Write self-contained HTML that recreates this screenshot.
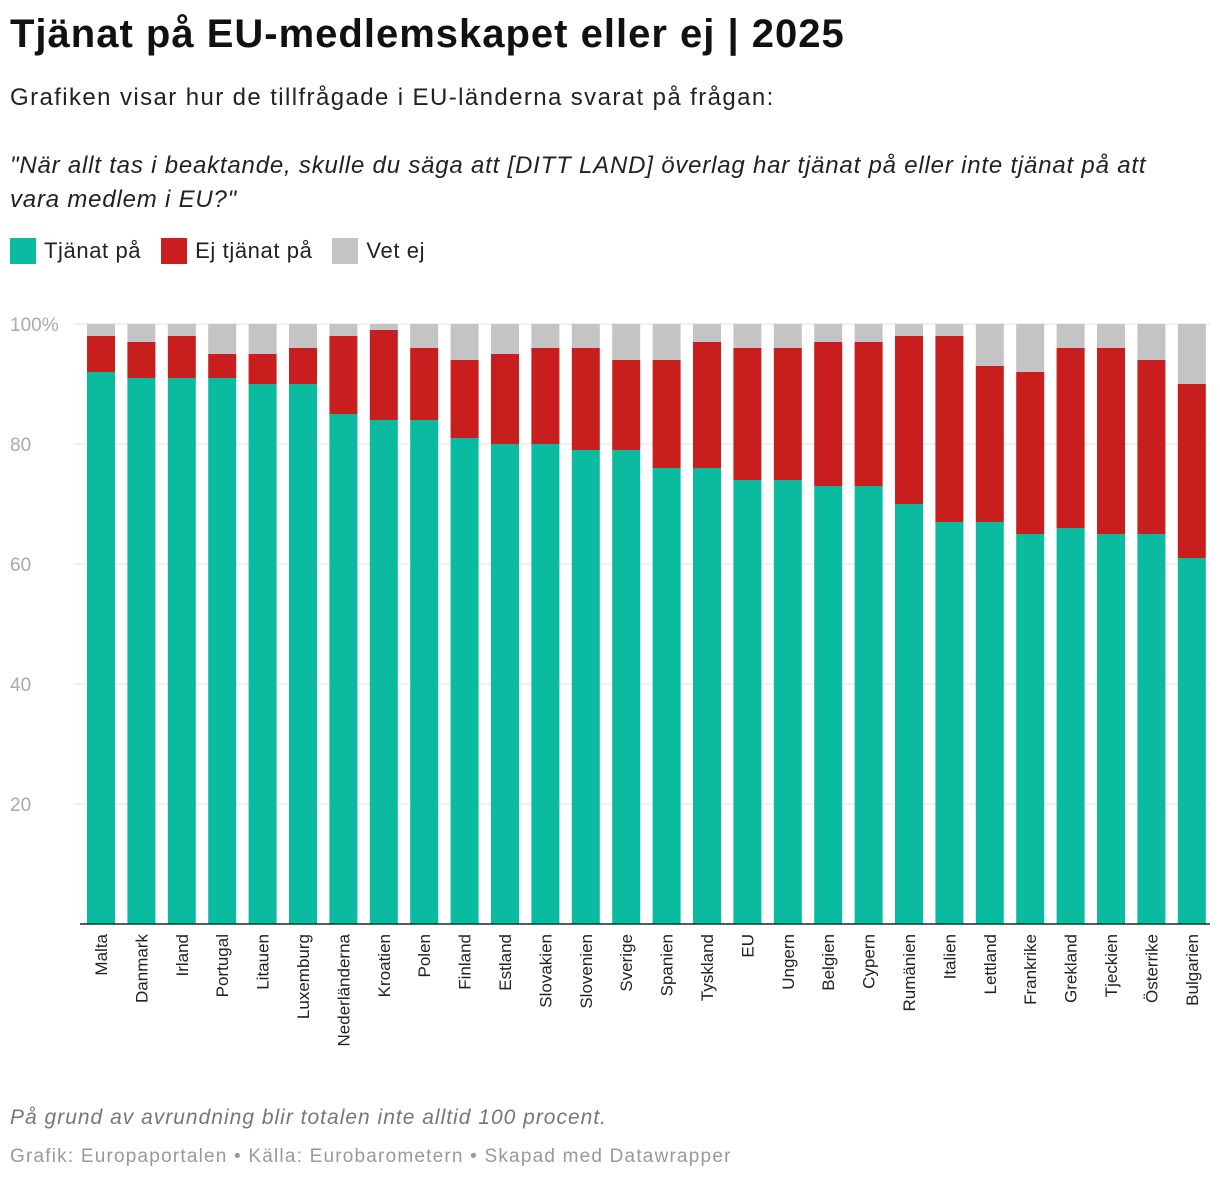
<!DOCTYPE html>
<html><head><meta charset="utf-8">
<style>
body{margin:0;background:#fff;width:1220px;height:1180px;overflow:hidden;font-family:"Liberation Sans",sans-serif;}
.t{position:absolute;left:10px;white-space:nowrap}
</style></head><body>
<div class="t" style="top:12px;font-size:40px;font-weight:bold;color:#111;letter-spacing:1px">Tjänat på EU-medlemskapet eller ej | 2025</div>
<div class="t" style="top:84px;font-size:24px;color:#222;letter-spacing:1.4px">Grafiken visar hur de tillfrågade i EU-länderna svarat på frågan:</div>
<div class="t" style="top:149px;font-size:24px;font-style:italic;color:#222;width:1210px;line-height:34px;letter-spacing:0.8px">"När allt tas i beaktande, skulle du säga att [DITT LAND] överlag har tjänat på eller inte tjänat på att<br>vara medlem i EU?"</div>
<div style="position:absolute;top:238px;left:10px;font-size:22px;color:#222;display:flex;gap:20px;align-items:center;letter-spacing:0.6px">
<span style="display:flex;align-items:center"><span style="width:26px;height:26px;background:#0bbba0;display:inline-block;margin-right:8px"></span>Tjänat på</span>
<span style="display:flex;align-items:center"><span style="width:26px;height:26px;background:#c81e1e;display:inline-block;margin-right:8px"></span>Ej tjänat på</span>
<span style="display:flex;align-items:center"><span style="width:26px;height:26px;background:#c4c4c4;display:inline-block;margin-right:8px"></span>Vet ej</span>
</div>
<svg id="chart" width="1220" height="1180" style="position:absolute;left:0;top:0"></svg>
<div class="t" style="top:1106px;font-size:21px;font-style:italic;color:#777;letter-spacing:1px">På grund av avrundning blir totalen inte alltid 100 procent.</div>
<div class="t" style="top:1146px;font-size:19px;color:#999;letter-spacing:1.2px">Grafik: Europaportalen • Källa: Eurobarometern • Skapad med Datawrapper</div>
<script>
const categories=["Malta","Danmark","Irland","Portugal","Litauen","Luxemburg","Nederländerna","Kroatien","Polen","Finland","Estland","Slovakien","Slovenien","Sverige","Spanien","Tyskland","EU","Ungern","Belgien","Cypern","Rumänien","Italien","Lettland","Frankrike","Grekland","Tjeckien","Österrike","Bulgarien"];
const tjanat=[92,91,91,91,90,90,85,84,84,81,80,80,79,79,76,76,74,74,73,73,70,67,67,65,66,65,65,61];
const ejTjanat=[6,6,7,4,5,6,13,15,12,13,15,16,17,15,18,21,22,22,24,24,28,31,26,27,30,31,29,29];
const vetEj=[2,3,2,5,5,4,2,1,4,6,5,4,4,6,6,3,4,4,3,3,2,2,7,8,4,4,6,10];
const yTicks=[20,40,60,80,100];
const NS="http://www.w3.org/2000/svg";
const svg=document.getElementById('chart');
const y0=924,pxPer=6,x0=87,step=40.4,bw=28;
const y=v=>y0-v*pxPer;
const x=i=>x0+i*step;
function mk(t,a){const e=document.createElementNS(NS,t);for(const k in a)e.setAttribute(k,a[k]);svg.appendChild(e);return e;}
yTicks.forEach(v=>{
 const g=mk('line',{x1:75,x2:1210,y1:y(v),y2:y(v),stroke:'#e3e3e3','stroke-width':1});
 
 
 const t=mk('text',{x:10,y:y(v)+7,'font-size':19,fill:'#aaa','font-family':'Liberation Sans, sans-serif'});
 t.textContent=v===100?'100%':String(v);
 
 
});
categories.forEach((c,i)=>{
 const a=tjanat[i],b=ejTjanat[i],d=vetEj[i];
 const r1=mk('rect',{x:x(i),y:y(a),width:bw,height:a*pxPer,fill:'#0bbba0'});
 
 
 const r2=mk('rect',{x:x(i),y:y(a+b),width:bw,height:b*pxPer,fill:'#c81e1e'});
 
 
 const r3=mk('rect',{x:x(i),y:y(a+b+d),width:bw,height:d*pxPer,fill:'#c4c4c4'});
 
 
 const cx=x(i)+bw/2+6;
 const t=mk('text',{x:cx,y:934,transform:`rotate(-90 ${cx} 934)`,'text-anchor':'end','font-size':17,fill:'#222','font-family':'Liberation Sans, sans-serif'});
 t.textContent=c;
 
 
});
const base=mk('line',{x1:80,x2:1210,y1:y0,y2:y0,stroke:'#222','stroke-width':1.5});


</script>
</body></html>
